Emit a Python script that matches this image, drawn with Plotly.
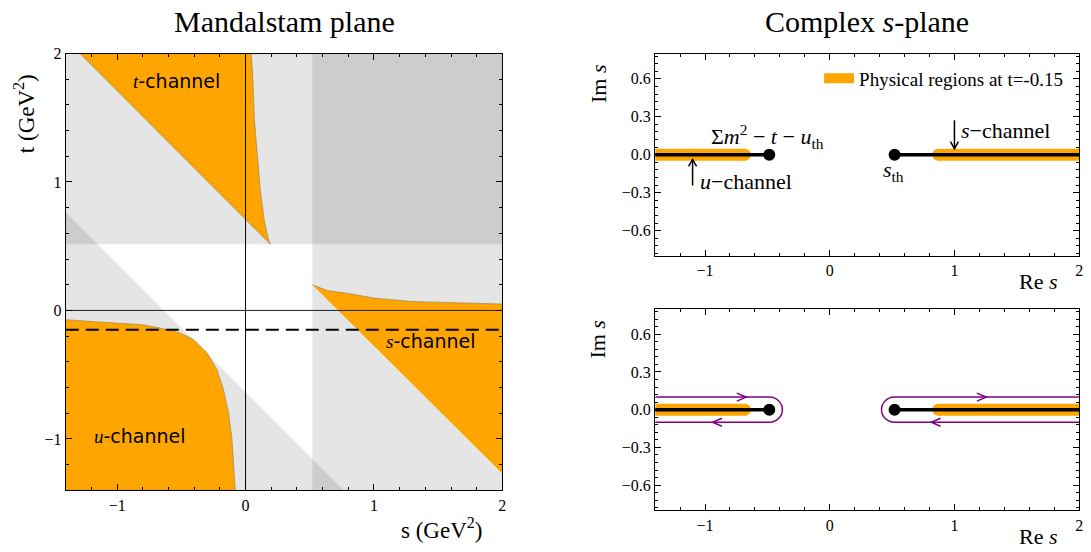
import plotly.graph_objects as go

# ---------------- data ----------------
S_RANGE = [-1.4, 2.0]
T_RANGE = [-1.4, 2.0]
IM_RANGE = [-0.8, 0.8]

S_TH = 0.52       # s-channel threshold
T_TH = 0.515      # t-channel threshold
U_LINE = -0.635   # s + t on the u-threshold line  (sum m^2 - u_th)
T_FIXED = -0.15   # fixed t used in the complex s-plane

# physical regions (boundary vertices, GeV^2)
T_CH_S = [-1.29, 0.193, 0.18, 0.146, 0.115, 0.089, 0.068, 0.058, 0.045]
T_CH_T = [2.0, 0.515, 0.548, 0.70, 0.936, 1.27, 1.50, 1.79, 2.0]

S_CH_S = [0.52, 0.636, 0.818, 1.0, 1.287, 1.52, 1.82, 2.0, 2.0]
S_CH_T = [0.20, 0.155, 0.129, 0.096, 0.07, 0.062, 0.052, 0.05, -1.27]

U_CH_S = [-1.4, -1.057, -0.80, -0.666, -0.51, -0.405, -0.30, -0.223, -0.172, -0.133, -0.106, -0.08, -1.4]
U_CH_T = [-0.072, -0.093, -0.112, -0.137, -0.175, -0.227, -0.33, -0.46, -0.615, -0.795, -1.0, -1.4, -1.4]

# complex s-plane at t = -0.15
PHYS_U = [-1.4, -0.68]
PHYS_S = [0.87, 2.0]
CUT_U = [-1.4, -0.485]
CUT_S = [0.52, 2.0]
BRANCH_PTS = [-0.485, 0.52]

CONTOUR_OFF = 0.1
CONTOUR_RX = 0.105
CHEV_S = [-0.67, -0.94, 1.255, 0.814]
CHEV_Y = [0.1, -0.1, 0.1, -0.1]
CHEV_DIR = [1, -1, 1, -1]

ARROW_U = dict(s=-1.10, tail=-0.243, tip=-0.037)
ARROW_S = dict(s=1.0, tail=0.272, tip=0.048)

X_TICKS = [-1, 0, 1, 2]
T_TICKS = [-1, 0, 1, 2]
IM_TICKS = [-0.6, -0.3, 0.0, 0.3, 0.6]

ORANGE = "#FFA500"
PURPLE = "#800080"
GRAY = "rgba(0,0,0,0.1)"
SERIF = "Liberation Serif"
SANS = "DejaVu Sans"

W, H = 1091, 552
SX, SY, OY = 0.995, 0.987, 7.7   # small calibration of the photographed page


def px_x(p):
    return (p / SX) / W


def px_y(p):
    return 1 - ((p - OY) / SY) / H


fig = go.Figure()

# ---------------- left: Mandalstam plane ----------------
shapes = []
shapes.append(dict(type="rect", xref="x", yref="y", x0=S_TH, x1=S_RANGE[1], y0=T_RANGE[0], y1=T_RANGE[1],
                   fillcolor=GRAY, line_width=0, layer="below"))
shapes.append(dict(type="rect", xref="x", yref="y", x0=S_RANGE[0], x1=S_RANGE[1], y0=T_TH, y1=T_RANGE[1],
                   fillcolor=GRAY, line_width=0, layer="below"))
ua = U_LINE - S_RANGE[0]
ub = U_LINE - T_RANGE[0]
shapes.append(dict(type="path", xref="x", yref="y",
                   path=f"M {S_RANGE[0]},{ua} L {S_RANGE[0]},{T_RANGE[0]} L {ub},{T_RANGE[0]} Z",
                   fillcolor=GRAY, line_width=0, layer="below"))

edge = dict(color="rgba(150,125,80,0.75)", width=0.8)
for xs, ys in [(T_CH_S, T_CH_T), (S_CH_S, S_CH_T), (U_CH_S, U_CH_T)]:
    fig.add_trace(go.Scatter(x=xs, y=ys, fill="toself", fillcolor=ORANGE, mode="lines", line=edge,
                             showlegend=False, hoverinfo="skip", xaxis="x", yaxis="y"))

fig.add_trace(go.Scatter(x=[0, 0], y=T_RANGE, mode="lines", line=dict(color="black", width=1),
                         showlegend=False, xaxis="x", yaxis="y"))
fig.add_trace(go.Scatter(x=S_RANGE, y=[0, 0], mode="lines", line=dict(color="#222", width=1),
                         showlegend=False, xaxis="x", yaxis="y"))
fig.add_trace(go.Scatter(x=S_RANGE, y=[T_FIXED, T_FIXED], mode="lines",
                         line=dict(color="black", width=2, dash="13px,7px"),
                         showlegend=False, xaxis="x", yaxis="y"))

# ---------------- right: complex s-plane (two panels) ----------------
for i, (xa, ya) in enumerate([("x2", "y2"), ("x3", "y3")]):
    fig.add_trace(go.Scatter(x=PHYS_U, y=[0, 0], mode="lines", line=dict(color=ORANGE, width=12),
                             name="Physical regions at t=-0.15", showlegend=(i == 0),
                             legendgroup="phys", xaxis=xa, yaxis=ya))
    fig.add_trace(go.Scatter(x=PHYS_S, y=[0, 0], mode="lines", line=dict(color=ORANGE, width=12),
                             showlegend=False, legendgroup="phys", xaxis=xa, yaxis=ya))
    fig.add_trace(go.Scatter(x=[PHYS_U[1], PHYS_S[0]], y=[0, 0], mode="markers",
                             marker=dict(color=ORANGE, size=12), showlegend=False, xaxis=xa, yaxis=ya))
    fig.add_trace(go.Scatter(x=CUT_U, y=[0, 0], mode="lines", line=dict(color="black", width=3.5),
                             showlegend=False, xaxis=xa, yaxis=ya))
    fig.add_trace(go.Scatter(x=CUT_S, y=[0, 0], mode="lines", line=dict(color="black", width=3.5),
                             showlegend=False, xaxis=xa, yaxis=ya))
    fig.add_trace(go.Scatter(x=BRANCH_PTS, y=[0, 0], mode="markers", marker=dict(color="black", size=12),
                             showlegend=False, xaxis=xa, yaxis=ya))

# contours in bottom panel
k = 0.5523
r, rx = CONTOUR_OFF, CONTOUR_RX
cu, cs = BRANCH_PTS
path_u = (f"M {S_RANGE[0]},{r} L {cu},{r} "
          f"C {cu + k * rx},{r} {cu + rx},{k * r} {cu + rx},0 "
          f"C {cu + rx},{-k * r} {cu + k * rx},{-r} {cu},{-r} "
          f"L {S_RANGE[0]},{-r}")
path_s = (f"M {S_RANGE[1]},{r} L {cs},{r} "
          f"C {cs - k * rx},{r} {cs - rx},{k * r} {cs - rx},0 "
          f"C {cs - rx},{-k * r} {cs - k * rx},{-r} {cs},{-r} "
          f"L {S_RANGE[1]},{-r}")
for p in (path_u, path_s):
    shapes.append(dict(type="path", xref="x3", yref="y3", path=p, line=dict(color=PURPLE, width=1.5)))
cdx, cdy = 0.075, 0.032
for s, y, d in zip(CHEV_S, CHEV_Y, CHEV_DIR):
    shapes.append(dict(type="path", xref="x3", yref="y3",
                       path=f"M {s - d * cdx},{y + cdy} L {s},{y} L {s - d * cdx},{y - cdy}",
                       line=dict(color=PURPLE, width=1.5)))

# arrows in top panel
adx, ady = 0.032, 0.055
for a in (ARROW_U, ARROW_S):
    d = 1 if a["tip"] > a["tail"] else -1
    shapes.append(dict(type="line", xref="x2", yref="y2", x0=a["s"], x1=a["s"], y0=a["tail"], y1=a["tip"],
                       line=dict(color="black", width=1.5)))
    shapes.append(dict(type="path", xref="x2", yref="y2",
                       path=f"M {a['s'] - adx},{a['tip'] - d * ady} L {a['s']},{a['tip']} L {a['s'] + adx},{a['tip'] - d * ady}",
                       line=dict(color="black", width=1.5)))

# ---------------- annotations ----------------
ann = []
lab = dict(family=SANS, size=19, color="black")
ann.append(dict(x=-0.54, y=1.79, xref="x", yref="y", showarrow=False, font=lab,
                text=f"<span style='font-family:{SERIF}'><i>t</i></span>-channel"))
ann.append(dict(x=-0.82, y=-0.98, xref="x", yref="y", showarrow=False, font=lab,
                text=f"<span style='font-family:{SERIF}'><i>u</i></span>-channel"))
ann.append(dict(x=1.44, y=-0.235, xref="x", yref="y", showarrow=False, font=lab,
                text=f"<span style='font-family:{SERIF}'><i>s</i></span>-channel"))


def paper_text(xp, yp, text, font, angle=0):
    return dict(x=px_x(xp), y=px_y(yp), xref="paper", yref="paper", showarrow=False, text=text,
                font=font, xanchor="center", yanchor="middle", textangle=angle)


title_font = dict(family=SERIF, size=30, color="black")
ann.append(paper_text(283.7, 21, "Mandalstam plane", title_font))
ann.append(paper_text(866, 21, "Complex <i>s</i>-plane", title_font))

axlab = dict(family=SERIF, size=23, color="black")
ann.append(paper_text(441, 529, "s (GeV<sup>2</sup>)", axlab))
ann.append(paper_text(24, 114, "t (GeV<sup>2</sup>)", axlab, angle=-90))

small = dict(family=SERIF, size=22, color="black")
for yc in (83, 339):
    ann.append(paper_text(597, yc, "Im <i>s</i>", small, angle=-90))
for yc in (282, 537):
    ann.append(paper_text(1037, yc, "Re <i>s</i>", small))

ann.append(dict(x=-0.50, y=0.143, xref="x2", yref="y2", showarrow=False, font=small,
                text="Σ<i>m</i><sup>2</sup> − <i>t</i> − <i>u</i><sub>th</sub>"))
ann.append(dict(x=-1.06, y=-0.21, xref="x2", yref="y2", showarrow=False, font=small, xanchor="left",
                text="<i>u</i>−channel"))
ann.append(dict(x=1.035, y=0.19, xref="x2", yref="y2", showarrow=False, font=small, xanchor="left",
                text="<i>s</i>−channel"))
ann.append(dict(x=0.51, y=-0.13, xref="x2", yref="y2", showarrow=False, font=small,
                text="<i>s</i><sub>th</sub>"))

# ---------------- axes ----------------
def axis_style(domain, rng, tickvals, minor_dt, fmt=None, anchor=None):
    d = dict(domain=domain, range=rng, tickvals=tickvals, ticks="inside", ticklen=6, tickwidth=1.2,
             tickcolor="black", showline=True, linecolor="black", linewidth=1.3, mirror="allticks",
             showgrid=False, zeroline=False, tickfont=dict(family=SERIF, size=16, color="black"),
             minor=dict(ticks="inside", ticklen=3, tickwidth=1, tickcolor="black", dtick=minor_dt, tick0=0,
                        showgrid=False),
             fixedrange=True)
    if fmt:
        d["tickformat"] = fmt
    if anchor:
        d["anchor"] = anchor
    return d


xl = [px_x(65.7), px_x(501.7)]
yl = [px_y(490.7), px_y(53.3)]
xr = [px_x(654.3), px_x(1077.7)]
yt = [px_y(256), px_y(53.3)]
yb = [px_y(510.7), px_y(309.3)]

fig.update_layout(
    width=W, height=H,
    margin=dict(l=0, r=0, t=0, b=0),
    paper_bgcolor="white", plot_bgcolor="white",
    xaxis=axis_style(xl, S_RANGE, X_TICKS, 0.2, anchor="y"),
    yaxis=axis_style(yl, T_RANGE, T_TICKS, 0.2, anchor="x"),
    xaxis2=axis_style(xr, S_RANGE, X_TICKS, 0.2, anchor="y2"),
    yaxis2=axis_style(yt, IM_RANGE, IM_TICKS, 0.06, fmt=".1f", anchor="x2"),
    xaxis3=axis_style(xr, S_RANGE, X_TICKS, 0.2, anchor="y3"),
    yaxis3=axis_style(yb, IM_RANGE, IM_TICKS, 0.06, fmt=".1f", anchor="x3"),
    shapes=shapes,
    annotations=ann,
    showlegend=True,
    legend=dict(x=px_x(818), y=px_y(78.3), xanchor="left", yanchor="middle",
                bgcolor="rgba(0,0,0,0)", borderwidth=0,
                font=dict(family=SERIF, size=19, color="black"), itemwidth=30),
)

POST = ("document.documentElement.style.margin='0';document.documentElement.style.overflow='hidden';"
        "document.body.style.margin='0';document.body.style.overflow='hidden';"
        "var g=document.getElementsByClassName('plotly-graph-div')[0];"
        "g.style.position='absolute';g.style.left='0px';g.style.top='0px';")

fig.write_html("out.html", post_script=POST, config={"displayModeBar": False})
